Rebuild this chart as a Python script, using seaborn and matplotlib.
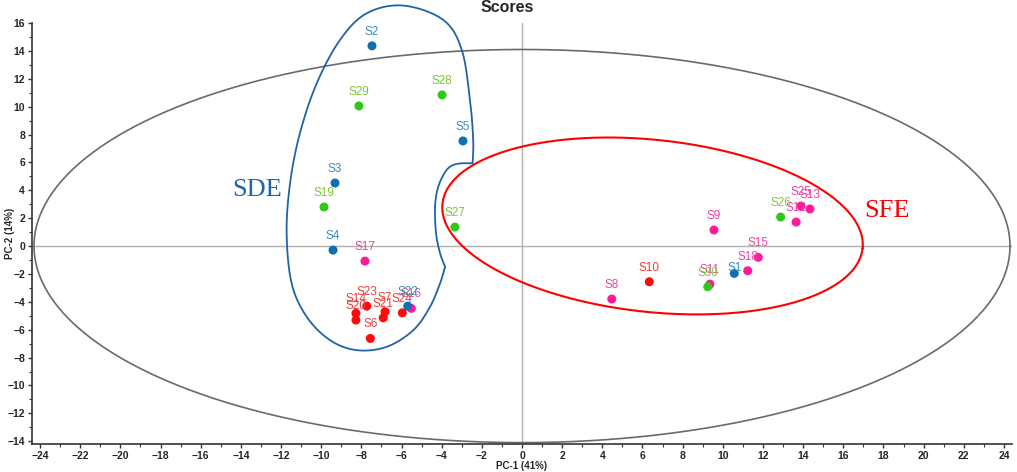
import numpy as np
import pandas as pd
import matplotlib
matplotlib.use("Agg")
import matplotlib.pyplot as plt
import seaborn as sns
from matplotlib.ticker import MultipleLocator

# ---------------- data ----------------
samples = ["S1", "S2", "S3", "S4", "S5", "S6", "S7", "S8", "S9", "S10",
           "S11", "S12", "S13", "S14", "S15", "S16", "S17", "S18", "S19", "S20",
           "S21", "S22", "S23", "S24", "S25", "S26", "S27", "S28", "S29", "S30"]
pc1 = [10.57, -7.47, -9.31, -9.41, -2.94, -7.55, -6.82, 4.47, 9.56, 6.34,
       9.36, 13.65, 14.34, -8.27, 11.77, -5.51, -7.82, 11.24, -9.86, -8.27,
       -6.91, -5.69, -7.73, -5.96, 13.89, 12.88, -3.34, -3.98, -8.12, 9.25]
pc2 = [-1.96, 14.36, 4.52, -0.29, 7.54, -6.63, -4.71, -3.80, 1.15, -2.56,
       -2.73, 1.72, 2.66, -4.83, -0.81, -4.47, -1.08, -1.77, 2.80, -5.31,
       -5.15, -4.31, -4.31, -4.79, 2.87, 2.08, 1.36, 10.84, 10.05, -2.92]
groups = ["A", "A", "A", "A", "A", "D", "D", "C", "C", "D",
          "C", "C", "C", "D", "C", "C", "C", "C", "B", "D",
          "D", "A", "D", "D", "C", "B", "B", "B", "B", "B"]

x_ticks = list(range(-24, 25, 2))
y_ticks = list(range(-14, 17, 2))

# annotation outline (SDE region), data units
sde_outer = [(-3.83, -1.49), (-4.08, -2.68), (-4.58, -4.36), (-5.41, -6.03),
             (-6.74, -7.23), (-8.23, -7.47), (-9.56, -6.75), (-10.72, -5.08),
             (-11.47, -2.68), (-11.72, 0.91), (-11.55, 4.50), (-11.06, 8.09),
             (-10.22, 11.68), (-9.06, 14.79), (-7.73, 16.70), (-5.91, 17.25),
             (-3.92, 16.22), (-3.00, 14.07), (-2.59, 10.48), (-2.43, 7.61),
             (-2.46, 5.94)]
sde_notch = [(-2.46, 5.94), (-3.25, 5.89), (-3.75, 5.46), (-4.17, 4.26),
             (-4.33, 2.82), (-4.28, 0.91), (-4.08, -0.52), (-3.83, -1.49)]

# ---------------- style ----------------
point_colors = {"A": "#0f6fb0", "B": "#2ec81a", "C": "#ff1a9a", "D": "#ff0a0a"}
label_colors = {"A": "#3a8cb8", "B": "#7cc834", "C": "#ee40a4", "D": "#f03c3c"}

sns.set_style("ticks")
plt.rcParams["font.family"] = ["Liberation Sans", "DejaVu Sans"]

fig = plt.figure(figsize=(10.17, 4.72), dpi=100)
ax = fig.add_axes([32 / 1017, 28 / 472, 980 / 1017, 421 / 472])

df = pd.DataFrame({"sample": samples, "PC1": pc1, "PC2": pc2, "group": groups})

# zero lines
ax.axhline(0, color="#b0b0b0", lw=1.0, zorder=1)
ax.axvline(0, color="#b0b0b0", lw=1.0, zorder=1)

# Hotelling ellipse
t = np.linspace(0, 2 * np.pi, 400)
ax.plot(24.3 * np.cos(t), 14.1 * np.sin(t), color="#6a6a6a", lw=1.2, zorder=2)

# SFE ellipse (rotated)
cx, cy = 6.50, 1.44
u = (10.46, -1.60)
v = (0.45, 6.14)
ax.plot(cx + u[0] * np.cos(t) + v[0] * np.sin(t),
        cy + u[1] * np.cos(t) + v[1] * np.sin(t),
        color="#ff0000", lw=1.5, zorder=2)


def catmull(points, n=30):
    p = np.array(points, dtype=float)
    p = np.vstack([p[0], p, p[-1]])
    out = []
    for i in range(1, len(p) - 2):
        p0, p1, p2, p3 = p[i - 1], p[i], p[i + 1], p[i + 2]
        s = np.linspace(0, 1, n, endpoint=False)[:, None]
        seg = 0.5 * ((2 * p1) + (-p0 + p2) * s + (2 * p0 - 5 * p1 + 4 * p2 - p3) * s ** 2
                     + (-p0 + 3 * p1 - 3 * p2 + p3) * s ** 3)
        out.append(seg)
    out.append(p[-2][None, :])
    return np.vstack(out)


outline = np.vstack([catmull(sde_outer), catmull(sde_notch)])
ax.plot(outline[:, 0], outline[:, 1], color="#1f63a8", lw=1.3, zorder=2, clip_on=False)

# points
sns.scatterplot(data=df, x="PC1", y="PC2", hue="group", palette=point_colors,
                s=42, edgecolor="none", linewidth=0, legend=False, ax=ax, zorder=3)

# labels
label_dy = {"S1": 5}
for name, x, y, g in zip(samples, pc1, pc2, groups):
    ax.annotate(name, (x, y), xytext=(0, label_dy.get(name, 14)), textcoords="offset pixels",
                ha="center", va="center", fontsize=8.5, color=label_colors[g], zorder=4)

ax.text(-13.2, 4.0, "SDE", family=["Liberation Serif", "DejaVu Serif"], fontsize=19,
        color="#1f63a8", ha="center", va="center")
ax.text(18.2, 2.5, "SFE", family=["Liberation Serif", "DejaVu Serif"], fontsize=19,
        color="#ff0000", ha="center", va="center")

# axes
ax.set_xlim(-24.4, 24.4)
ax.set_ylim(-14.2, 16)
ax.set_xticks(x_ticks)
ax.set_yticks(y_ticks)
ax.xaxis.set_minor_locator(MultipleLocator(1))
ax.yaxis.set_minor_locator(MultipleLocator(1))
ax.tick_params(which="major", direction="out", length=3, width=1, labelsize=7.5, pad=2,
               color="#333333")
ax.tick_params(which="minor", direction="out", length=2, width=0.8, color="#333333")
for lab in ax.get_xticklabels() + ax.get_yticklabels():
    lab.set_fontweight("bold")
for side in ["top", "right"]:
    ax.spines[side].set_visible(False)
for side in ["left", "bottom"]:
    ax.spines[side].set_color("#333333")
    ax.spines[side].set_linewidth(1.2)

ax.set_xlabel("PC-1 (41%)", fontsize=7, fontweight="bold")
ax.xaxis.label.set_va("center")
ax.xaxis.set_label_coords(0.5, -(466 - 444) / 421)
ax.set_ylabel("PC-2 (14%)", fontsize=7, fontweight="bold")
ax.yaxis.label.set_va("center")
ax.yaxis.set_label_coords((10 - 32) / 980, 0.5)

fig.text(0.4985, 1 - 8 / 472, "Scores", ha="center", va="center", fontsize=11.5,
         fontweight="bold")

fig.savefig("out.png", dpi=100)
